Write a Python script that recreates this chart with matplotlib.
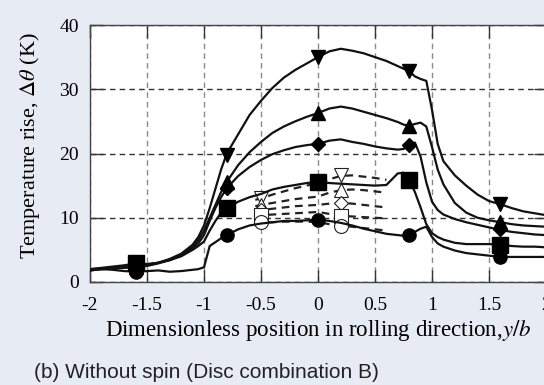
import matplotlib
matplotlib.use('Agg')
import matplotlib.pyplot as plt
import numpy as np

plt.rcParams['font.family'] = ['Liberation Serif', 'DejaVu Serif']
plt.rcParams['mathtext.fontset'] = 'stix'
plt.rcParams['axes.unicode_minus'] = False

# position along rolling direction, y/b
x = [-2.0, -1.9, -1.8, -1.7, -1.6, -1.5, -1.4, -1.3, -1.2, -1.1, -1.05, -1.0,
     -0.95, -0.9, -0.85, -0.8, -0.7, -0.6, -0.5, -0.4, -0.3, -0.2, -0.1, 0.0,
     0.1, 0.2, 0.3, 0.4, 0.5, 0.6, 0.7, 0.75, 0.8, 0.85, 0.9, 0.95, 1.0, 1.05,
     1.1, 1.2, 1.3, 1.4, 1.5, 1.6, 1.7, 1.8, 1.9, 2.0]

# solid curves (filled markers)
t_down = [1.8, 2.0, 2.1, 2.3, 2.5, 2.7, 3.0, 3.6, 4.4, 5.8, 7.0, 8.8,
          11.5, 14.5, 17.5, 20.0, 23.0, 26.0, 28.2, 30.2, 31.8, 33.0, 34.0, 35.0,
          35.9, 36.3, 36.0, 35.6, 35.0, 34.4, 33.6, 33.2, 32.8, 32.0, 31.6, 31.3, 26.8, 21.5,
          18.8, 16.6, 15.0, 13.6, 12.6, 12.1, 11.5, 11.0, 10.7, 10.4]
t_up = [2.0, 2.1, 2.2, 2.3, 2.4, 2.6, 3.0, 3.5, 4.2, 5.5, 6.5, 8.0,
        10.0, 12.0, 14.0, 15.6, 18.2, 20.2, 21.8, 23.2, 24.2, 25.0, 25.7, 26.3,
        27.0, 27.3, 27.0, 26.5, 26.0, 25.5, 24.9, 24.5, 24.3, 24.6, 24.8, 24.2, 21.0, 17.5,
        15.2, 12.3, 10.8, 10.0, 9.6, 9.3, 9.0, 8.8, 8.7, 8.6]
t_dia = [2.0, 2.0, 2.1, 2.2, 2.3, 2.5, 2.9, 3.4, 4.2, 5.3, 6.0, 7.3,
         9.5, 11.5, 13.2, 14.6, 16.5, 17.9, 19.0, 19.9, 20.5, 21.0, 21.3, 21.5,
         22.0, 22.2, 21.8, 21.5, 21.1, 20.8, 20.6, 20.7, 21.4, 21.7, 19.5, 15.5, 12.5, 11.2,
         10.5, 9.8, 9.3, 8.9, 8.5, 8.1, 7.8, 7.6, 7.4, 7.3]
t_sq = [2.0, 2.2, 2.4, 2.6, 2.9, 2.8, 3.0, 3.4, 4.0, 5.0, 5.6, 6.3,
        8.0, 9.5, 10.8, 11.5, 12.5, 13.2, 13.7, 14.4, 14.8, 15.1, 15.4, 15.6,
        15.4, 15.3, 15.2, 15.1, 15.0, 15.1, 16.9, 17.0, 15.9, 14.0, 11.6, 9.0, 7.6, 7.0,
        6.6, 6.1, 5.9, 5.9, 5.9, 5.8, 5.6, 5.5, 5.5, 5.4]
t_circ = [1.8, 2.0, 1.9, 1.7, 1.6, 1.7, 1.8, 1.6, 1.7, 1.9, 2.0, 2.3,
          5.6, 6.2, 6.8, 7.3, 8.2, 8.8, 9.1, 9.3, 9.5, 9.5, 9.6, 9.7,
          9.5, 9.2, 8.8, 8.3, 7.9, 7.5, 7.3, 7.2, 7.3, 7.8, 8.3, 8.6, 7.0, 6.0,
          5.5, 4.9, 4.5, 4.3, 4.1, 3.9, 3.9, 3.9, 3.9, 3.9]

# filled marker positions
xm = [-1.6, -0.8, 0.0, 0.8, 1.6]
m_down = [2.5, 19.8, 35.0, 32.8, 12.1]
m_up = [2.4, 15.6, 26.3, 24.3, 9.3]
m_dia = [2.2, 14.6, 21.5, 21.4, 8.3]
m_sq = [3.0, 11.5, 15.6, 15.9, 5.8]
m_circ = [1.6, 7.3, 9.7, 7.3, 3.9]

# dashed curves (open markers)
xd = [-0.55, -0.5, -0.4, -0.3, -0.2, -0.1, 0.0, 0.1, 0.2, 0.3, 0.4, 0.5, 0.6]
d_down = [12.8, 13.0, 13.6, 14.1, 14.6, 15.0, 15.4, 16.0, 16.5, 16.6, 16.4, 16.2, 15.9]
d_up = [11.8, 12.0, 12.3, 12.6, 12.9, 13.1, 13.3, 13.9, 14.3, 14.4, 14.3, 14.1, 13.9]
d_dia = [11.0, 11.2, 11.4, 11.6, 11.8, 11.9, 12.0, 12.2, 12.3, 12.2, 12.0, 11.8, 11.6]
d_sq = [10.2, 10.4, 10.5, 10.6, 10.7, 10.8, 10.9, 10.6, 10.3, 10.2, 10.1, 10.0, 9.9]
d_circ = [9.2, 9.3, 9.3, 9.4, 9.4, 9.4, 9.3, 9.0, 8.8, 8.6, 8.4, 8.2, 8.0]

xo = [-0.5, 0.2]
o_down = [13.0, 16.6]
o_up = [12.0, 14.3]
o_dia = [11.2, 12.3]
o_sq = [10.4, 10.2]
o_circ = [9.3, 8.7]

xticks = [-2, -1.5, -1, -0.5, 0, 0.5, 1, 1.5, 2]
xticklabels = ['-2', '-1.5', '-1', '-0.5', '0', '0.5', '1', '1.5', '2']
yticks = [0, 10, 20, 30, 40]

bg = '#e6ebf4'
fig = plt.figure(figsize=(5.44, 3.85), dpi=100, facecolor=bg)
ax = fig.add_axes([90/544, 1 - 282/385, (546 - 90)/544, (282 - 25)/385])
ax.set_facecolor('white')

# dashed curves with open markers
dashed = [(d_down, o_down, 'v', 10), (d_up, o_up, '^', 10), (d_dia, o_dia, 'D', 7),
          (d_sq, o_sq, 's', 10), (d_circ, o_circ, 'o', 10)]
for yd, yo, mk, ms in dashed:
    ax.plot(xd, yd, color='#222', lw=1.6, ls=(0, (3.5, 2.5)), zorder=3)
    ax.plot(xo, yo, ls='none', marker=mk, ms=ms, mfc='white', mec='#222', mew=0.8, zorder=4)

# solid curves with filled markers
solid = [(t_down, m_down, 'v', 10), (t_up, m_up, '^', 10), (t_dia, m_dia, 'D', 7),
         (t_sq, m_sq, 's', 11), (t_circ, m_circ, 'o', 9.5)]
for yt, ym, mk, ms in solid:
    ax.plot(x, yt, color='#111', lw=1.6, zorder=5)
    ax.plot(xm, ym, ls='none', marker=mk, ms=ms, color='black', zorder=6)

ax.set_xlim(-2, 2)
ax.set_ylim(0, 40)
ax.set_xticks(xticks)
ax.set_xticklabels(xticklabels)
ax.set_yticks(yticks)

ax.xaxis.grid(True, ls=(0, (4, 3)), color='#8a8a8a', lw=1)
ax.yaxis.grid(True, ls=(0, (4, 3)), color='#333', lw=1)
ax.set_axisbelow(True)

ax.tick_params(direction='in', length=9, width=1, color='#333',
               top=True, right=True, labelsize=14)
ax.tick_params(axis='x', pad=11)
ax.tick_params(axis='y', pad=8)
for s in ax.spines.values():
    s.set_color('#444')
    s.set_linewidth(1)

ax.set_xlabel('Dimensionless position in rolling direction,$y/b$', fontsize=16.5, labelpad=3)
fig.text(30/544, 1 - 146/385, r'Temperature rise, $\mathit{\Delta\theta}$ (K)',
         fontsize=16, rotation=90, ha='center', va='center')

fig.text(34/544, 1 - 372/385, '(b) Without spin (Disc combination B)',
         fontsize=15, family='Liberation Sans', color='#222', va='center')

fig.savefig('out.png', dpi=100, facecolor=bg)
